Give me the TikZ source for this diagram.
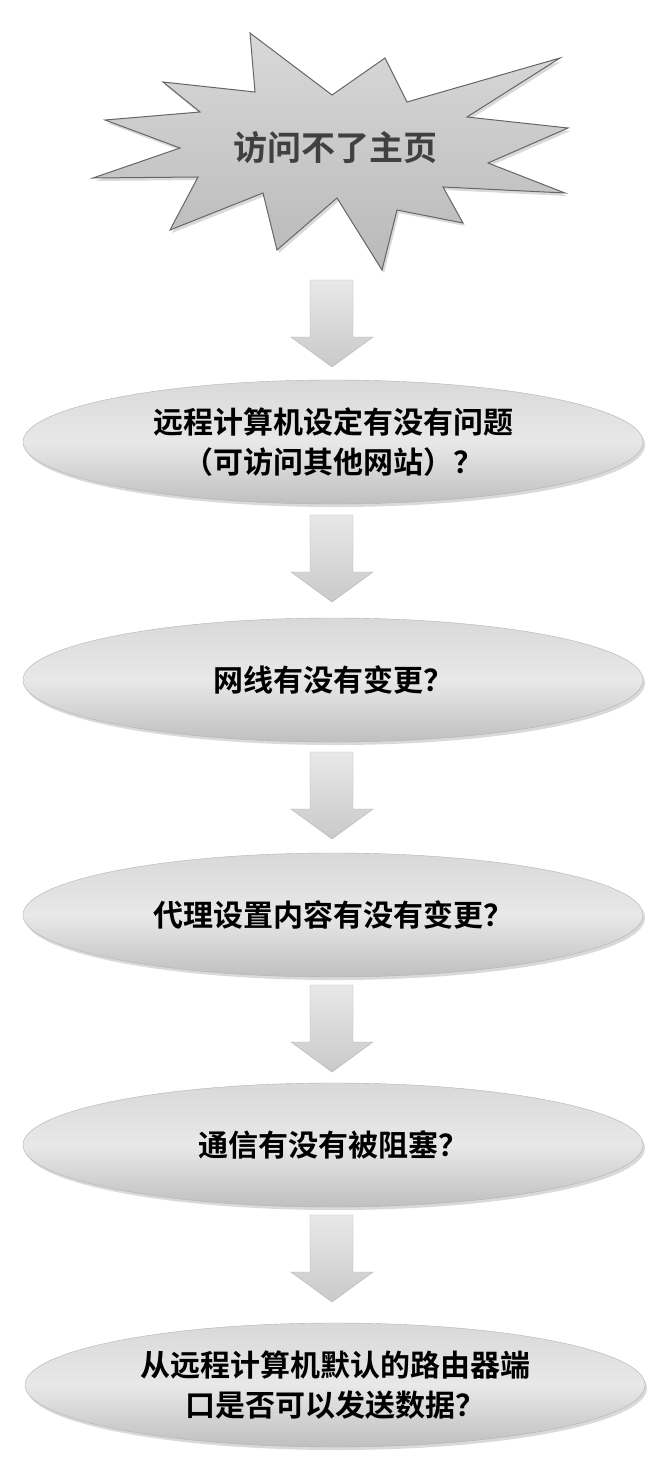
\documentclass[tikz,border=0pt]{standalone}
\usepackage{fontspec}
\newfontfamily\cjk{Noto Sans CJK SC Bold}
\usetikzlibrary{shadows,shapes.geometric}
\begin{document}
\begin{tikzpicture}[x=1pt,y=-1pt,
  oval/.style={ellipse,minimum width=620pt,minimum height=124pt,inner sep=0pt,draw=gray!60,
    top color=gray!30,bottom color=gray!50,middle color=gray!18,
    drop shadow={shadow xshift=2pt,shadow yshift=-3pt,opacity=.3},
    font=\cjk\fontsize{30}{40}\selectfont,align=center,text=black},
  barrow/.style={draw=gray!60,top color=gray!18,bottom color=gray!42}]
\useasboundingbox (0,0) rectangle (651,1461);
\draw[top color=gray!30,bottom color=gray!55,draw=gray!80!black,line width=1pt,
  drop shadow={shadow xshift=2pt,shadow yshift=-3pt,opacity=.3}]
 (250,33)--(332,95)--(385,58)--(407,102)--(560,58)--(467,117)--(568,128)--(488,163)
 --(565,193)--(443,187)--(463,223)--(397,210)--(382,270)--(337,198)--(277,250)
 --(263,193)--(170,230)--(198,177)--(93,178)--(180,148)--(105,120)--(200,112)
 --(163,82)--(255,92)--cycle;
\node[font=\cjk\fontsize{34}{40}\selectfont,text=black!75] (s) at (335,148) {访问不了主页};
\node[oval] (e1) at (333,442) {远程计算机设定有没有问题\\（可访问其他网站）？};
\node[oval] (e2) at (333,680) {网线有没有变更？};
\node[oval] (e3) at (333,915) {代理设置内容有没有变更？};
\node[oval] (e4) at (333,1145) {通信有没有被阻塞？};
\node[oval] (e5) at (335,1385) {从远程计算机默认的路由器端\\口是否可以发送数据？};
\foreach \t in {280,515,752,985,1215}{
  \draw[barrow] (310,\t)--(353,\t)--(353,\t+57)--(373,\t+57)--(332,\t+87)
    --(291,\t+57)--(310,\t+57)--cycle;
}
\end{tikzpicture}
\end{document}
